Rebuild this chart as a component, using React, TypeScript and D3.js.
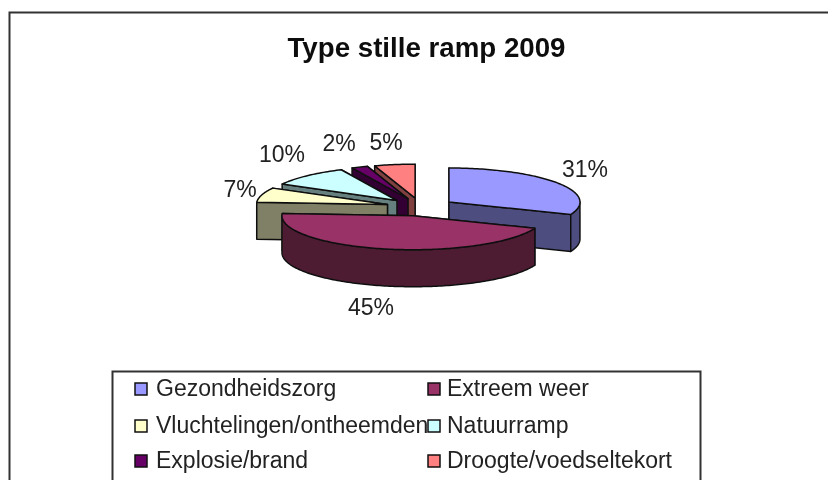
import React from "react";
import * as d3 from "d3";

const categories = ["Gezondheidszorg", "Extreem weer", "Vluchtelingen/ontheemden", "Natuurramp", "Explosie/brand", "Droogte/voedseltekort"];
const values = [31, 45, 7, 10, 2, 5];
const topColors = ["#9999ff", "#993366", "#ffffcc", "#ccffff", "#660066", "#ff8080"];
const sideColors = ["#4d4d80", "#4d1a33", "#808066", "#668080", "#330033", "#804040"];
// back slices first, the big front ones last
const drawOrder = [5, 4, 3, 2, 0, 1];
const labelPos = [[585, 169], [371, 307], [240, 189], [282, 154], [339, 143], [386, 142]];

const W = 828;
const H = 480;
const cx = 420.5;
const cy = 207;
const rx = 131;
const ry = 34;
const depth = 37;
const explode = 34.4;
const tilt = ry / rx;

const pie = d3.pie<number>().sort(null)(values);
const line = d3.line<[number, number]>();

// angle is clockwise from 12 o'clock, as in d3.pie
const rim = (a: number, ox: number, oy: number): [number, number] => [
  ox + rx * Math.sin(a),
  oy - ry * Math.cos(a),
];
const sweep = (a0: number, a1: number) => {
  const n = Math.max(2, Math.ceil((a1 - a0) / 0.02));
  return d3.range(n + 1).map((i) => a0 + ((a1 - a0) * i) / n);
};

function Slice({ index }: { index: number }) {
  const { startAngle: a0, endAngle: a1 } = pie[index];
  const mid = (a0 + a1) / 2;
  const ox = cx + explode * Math.sin(mid);
  const oy = cy - explode * tilt * Math.cos(mid);
  const apex: [number, number] = [ox, oy];
  const drop = (p: [number, number]): [number, number] => [p[0], p[1] + depth];

  const wall = (a: number) => {
    const p = rim(a, ox, oy);
    return line([apex, p, drop(p), drop(apex)]) + "Z";
  };
  const topPts = sweep(a0, a1).map((a) => rim(a, ox, oy));
  const top = line([apex, ...topPts]) + "Z";

  // only the part of the rim that faces the viewer gets an outer wall
  const f0 = Math.max(a0, Math.PI / 2);
  const f1 = Math.min(a1, (3 * Math.PI) / 2);
  let outer = null;
  if (f1 > f0) {
    const pts = sweep(f0, f1).map((a) => rim(a, ox, oy));
    outer = line([...pts, ...pts.slice().reverse().map(drop)]) + "Z";
  }
  // the wall facing the viewer goes last so the hidden one leaves no lines
  const walls = mid > Math.PI ? [a1, a0] : [a0, a1];
  const edge = { stroke: "#111", strokeWidth: 1.5, strokeLinejoin: "round" as const };
  return (
    <g>
      {walls.map((a, i) => (
        <path key={i} d={wall(a)} fill={sideColors[index]} {...edge} />
      ))}
      {outer && <path d={outer} fill={sideColors[index]} {...edge} />}
      <path d={top} fill={topColors[index]} {...edge} />
    </g>
  );
}

export default function App() {
  const font = "'Liberation Sans', Arial, sans-serif";
  const colX = [135, 428];
  const rowY = [388, 425, 460];
  const textX = [156, 447];
  return (
    <svg width={W} height={H} style={{ position: "absolute", left: 0, top: 0, background: "#fff" }}>
      <defs>
        <filter id="soft" x="0" y="0" width="100%" height="100%">
          <feGaussianBlur stdDeviation={0.5} />
        </filter>
      </defs>
      <g filter="url(#soft)">
        <rect width={W} height={H} fill="#fff" />
        <path d={`M9.5,${H}V12.5H${W}`} fill="none" stroke="#333" strokeWidth={2} />
        <text x={426.5} y={57} textAnchor="middle" fontFamily={font} fontWeight="bold" fontSize={27.7} fill="#111">
          Type stille ramp 2009
        </text>

        {drawOrder.map((i) => (
          <Slice key={i} index={i} />
        ))}

        {values.map((v, i) => (
          <text key={i} x={labelPos[i][0]} y={labelPos[i][1]} dy="0.35em" textAnchor="middle" fontFamily={font} fontSize={23} fill="#222">
            {v}%
          </text>
        ))}

        <path d={`M112.5,${H}V371.5H700.5V${H}`} fill="none" stroke="#333" strokeWidth={2} />
        {categories.map((c, i) => {
          const col = i % 2;
          const y = rowY[Math.floor(i / 2)];
          return (
            <g key={c}>
              <rect x={colX[col]} y={y - 5} width={12} height={12} fill={topColors[i]} stroke="#111" strokeWidth={1.5} />
              <text x={textX[col]} y={y} dy="0.35em" fontFamily={font} fontSize={23} fill="#222">
                {c}
              </text>
            </g>
          );
        })}
      </g>
    </svg>
  );
}
